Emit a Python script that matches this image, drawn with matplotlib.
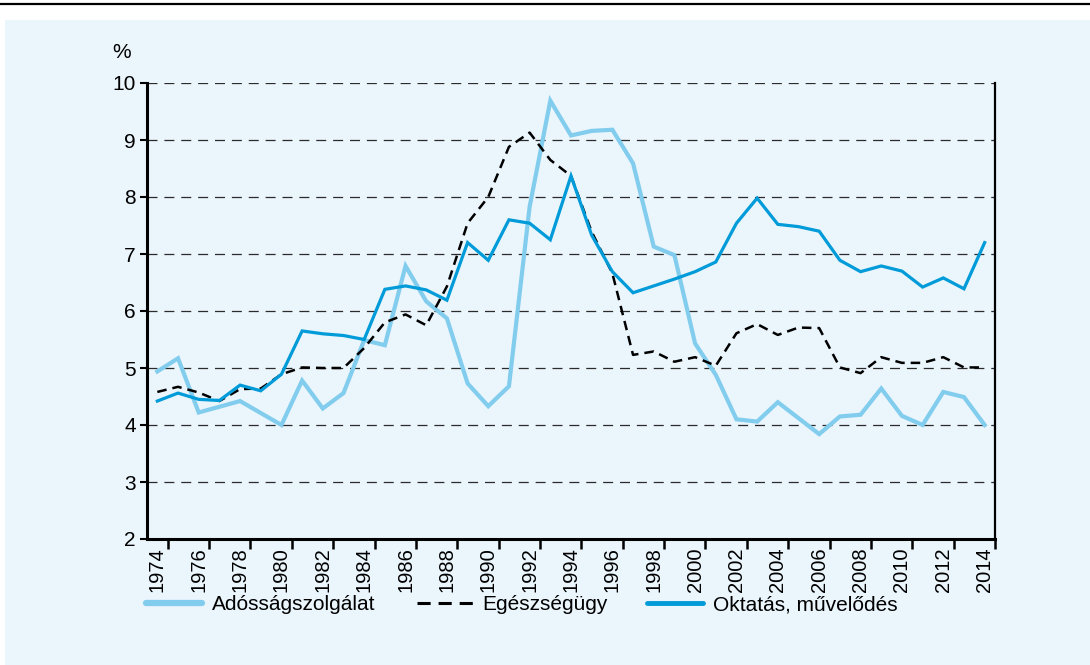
import numpy as np
import matplotlib
matplotlib.use("Agg")
import matplotlib.pyplot as plt
from matplotlib.lines import Line2D
from matplotlib.patches import Rectangle

# data (%, 1974-2014)
years = list(range(1974, 2015))

adossag = [4.94, 5.17, 4.22, 4.32, 4.42, 4.21, 4.00, 4.78, 4.29, 4.56,
           5.49, 5.40, 6.79, 6.17, 5.87, 4.73, 4.33, 4.68, 7.83, 9.69,
           9.08, 9.16, 9.18, 8.59, 7.13, 6.98, 5.43, 4.88, 4.10, 4.06,
           4.40, 4.12, 3.84, 4.15, 4.18, 4.64, 4.16, 4.00, 4.58, 4.49,
           4.00]

egeszseg = [4.58, 4.67, 4.57, 4.42, 4.63, 4.64, 4.89, 5.01, 5.00, 5.00,
            5.35, 5.80, 5.94, 5.75, 6.43, 7.54, 8.00, 8.88, 9.13, 8.65,
            8.37, 7.39, 6.66, 5.23, 5.29, 5.11, 5.19, 5.04, 5.61, 5.77,
            5.58, 5.71, 5.70, 5.01, 4.91, 5.19, 5.09, 5.09, 5.19, 5.01,
            5.01]

oktatas = [4.42, 4.56, 4.45, 4.43, 4.70, 4.60, 4.89, 5.65, 5.60, 5.57,
           5.50, 6.38, 6.44, 6.37, 6.19, 7.20, 6.89, 7.60, 7.54, 7.25,
           8.37, 7.33, 6.69, 6.32, 6.44, 6.56, 6.69, 6.86, 7.54, 7.98,
           7.52, 7.48, 7.40, 6.89, 6.69, 6.79, 6.70, 6.42, 6.58, 6.39,
           7.20]

labels = ["Adósságszolgálat", "Egészségügy", "Oktatás, művelődés"]
y_ticks = list(range(2, 11))
x_labels = list(range(1974, 2015, 2))

LIGHT = "#82cdee"
DARK = "#009bd8"
PANEL = "#eaf5fc"
DASH = (0, (3.8, 2.4))

plt.rcParams["font.family"] = ["Liberation Sans", "DejaVu Sans"]

W, H = 1090, 665
fig = plt.figure(figsize=(W / 100, H / 100), dpi=100)
fig.patch.set_facecolor("white")

# light blue panel + thin rule on top
fig.add_artist(Rectangle((5 / W, 0), 1 - 5 / W, 1 - 20 / H, transform=fig.transFigure,
                         facecolor=PANEL, edgecolor="none", zorder=0))
fig.add_artist(Line2D([0, 1], [1 - 4 / H, 1 - 4 / H], transform=fig.transFigure,
                      color="black", lw=1.6))

ax = fig.add_axes([147 / W, 1 - 539 / H, (995 - 147) / W, (539 - 83) / H])
ax.patch.set_visible(False)

ax.plot(years, adossag, color=LIGHT, lw=3.0, solid_joinstyle="miter", zorder=3)
ax.plot(years, egeszseg, color="black", lw=1.8, linestyle=DASH, zorder=4)
ax.plot(years, oktatas, color=DARK, lw=2.3, solid_joinstyle="miter", zorder=5)

ax.set_xlim(1973.5, 2014.5)
ax.set_ylim(2, 10)

# dashed horizontal grid
for v in y_ticks[1:]:
    ax.axhline(v, color="#2b2b2b", lw=0.9, linestyle=(0, (8, 5.5)), zorder=1)

ax.set_yticks(y_ticks)
ax.tick_params(axis="y", direction="out", length=5, width=1.5, pad=3, labelsize=15)

# labels sit on the years, tick marks between categories
ax.set_xticks(x_labels)
ax.set_xticklabels([str(y) for y in x_labels], rotation=90)
ax.set_xticks([y + 0.5 for y in x_labels], minor=True)
ax.tick_params(axis="x", which="major", length=0, pad=6, labelsize=14.5)
ax.tick_params(axis="x", which="minor", direction="out", length=7, width=1.8)

for s in ["left", "bottom"]:
    ax.spines[s].set_linewidth(2.2)
ax.spines["right"].set_linewidth(1.6)
ax.spines["top"].set_visible(False)

fig.text(122 / W, 1 - 52 / H, "%", fontsize=15, ha="center", va="center")

# one single-entry legend per series, so each item sits where it does in the original
handles = [
    Line2D([], [], color=LIGHT, lw=4.5, solid_capstyle="round"),
    Line2D([], [], color="black", lw=2.2, linestyle=(0, (4.3, 2.6))),
    Line2D([], [], color=DARK, lw=3.5, solid_capstyle="round"),
]
legend_x = [146, 417, 647]
for h, lab, x0 in zip(handles, labels, legend_x):
    fig.legend([h], [lab], loc="center left",
               bbox_to_anchor=(x0 / W, 1 - 605 / H), frameon=False,
               fontsize=15, handlelength=2.7, handletextpad=0.45,
               borderaxespad=0, borderpad=0)

fig.savefig("out.png", dpi=100)
